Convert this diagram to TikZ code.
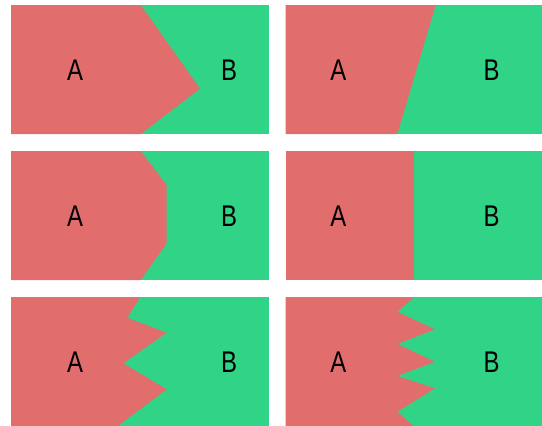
\documentclass[tikz,border=0pt]{standalone}
\usepackage{fontspec}
\newfontfamily\lblfont[FakeStretch=0.8]{Liberation Sans}
\definecolor{regA}{HTML}{E26D6D}
\definecolor{regB}{HTML}{31D486}
\tikzset{
  lbl/.style={inner sep=0pt, font=\lblfont\fontsize{30}{30}\selectfont, text=black},
}
\begin{document}
\begin{tikzpicture}[x=1bp,y=-1bp]
\useasboundingbox (0,0) rectangle (542,425);
% panel 1
\fill[regB] (11,5) rectangle (269,134);
\fill[regA] (11,5) -- (140.7,5) -- (200,88.7) -- (140.7,134) -- (11,134) -- cycle;
\node[lbl] (a1) at (75,70) {A};
\node[lbl] (b1) at (229,70) {B};
% panel 2
\fill[regB] (285.7,5) rectangle (543.7,134);
\fill[regA] (285.7,5) -- (435.7,5) -- (397.3,134) -- (285.7,134) -- cycle;
\node[lbl] (a2) at (338.3,70) {A};
\node[lbl] (b2) at (491.7,70) {B};
% panel 3
\fill[regB] (11,151) rectangle (269,280);
\fill[regA] (11,151) -- (140.7,151) -- (166.7,185) -- (166.7,243.3) -- (140.7,280) -- (11,280) -- cycle;
\node[lbl] (a3) at (75,216.5) {A};
\node[lbl] (b3) at (229,216.5) {B};
% panel 4
\fill[regB] (285.7,151) rectangle (543.7,280);
\fill[regA] (285.7,151) rectangle (414.3,280);
\node[lbl] (a4) at (338.3,216.5) {A};
\node[lbl] (b4) at (491.7,216.5) {B};
% panel 5
\fill[regB] (11,297.3) rectangle (269,426.3);
\fill[regA] (11,297.3) -- (140,297.3) -- (127.3,317.7) -- (166.7,332.7) -- (123.3,363.3) -- (166.7,389.3) -- (117.3,426.3) -- (11,426.3) -- cycle;
\node[lbl] (a5) at (75,362.5) {A};
\node[lbl] (b5) at (229,362.5) {B};
% panel 6
\fill[regB] (285.7,297.3) rectangle (543.7,426.3);
\fill[regA] (285.7,297.3) -- (414,297.3) -- (397.3,311.7) -- (435,329.3) -- (397.3,344) -- (435,361.7) -- (397.3,376) -- (435,388.3) -- (397.3,411.7) -- (414,426.3) -- (285.7,426.3) -- cycle;
\node[lbl] (a6) at (338.3,362.5) {A};
\node[lbl] (b6) at (491.7,362.5) {B};
\end{tikzpicture}
\end{document}
